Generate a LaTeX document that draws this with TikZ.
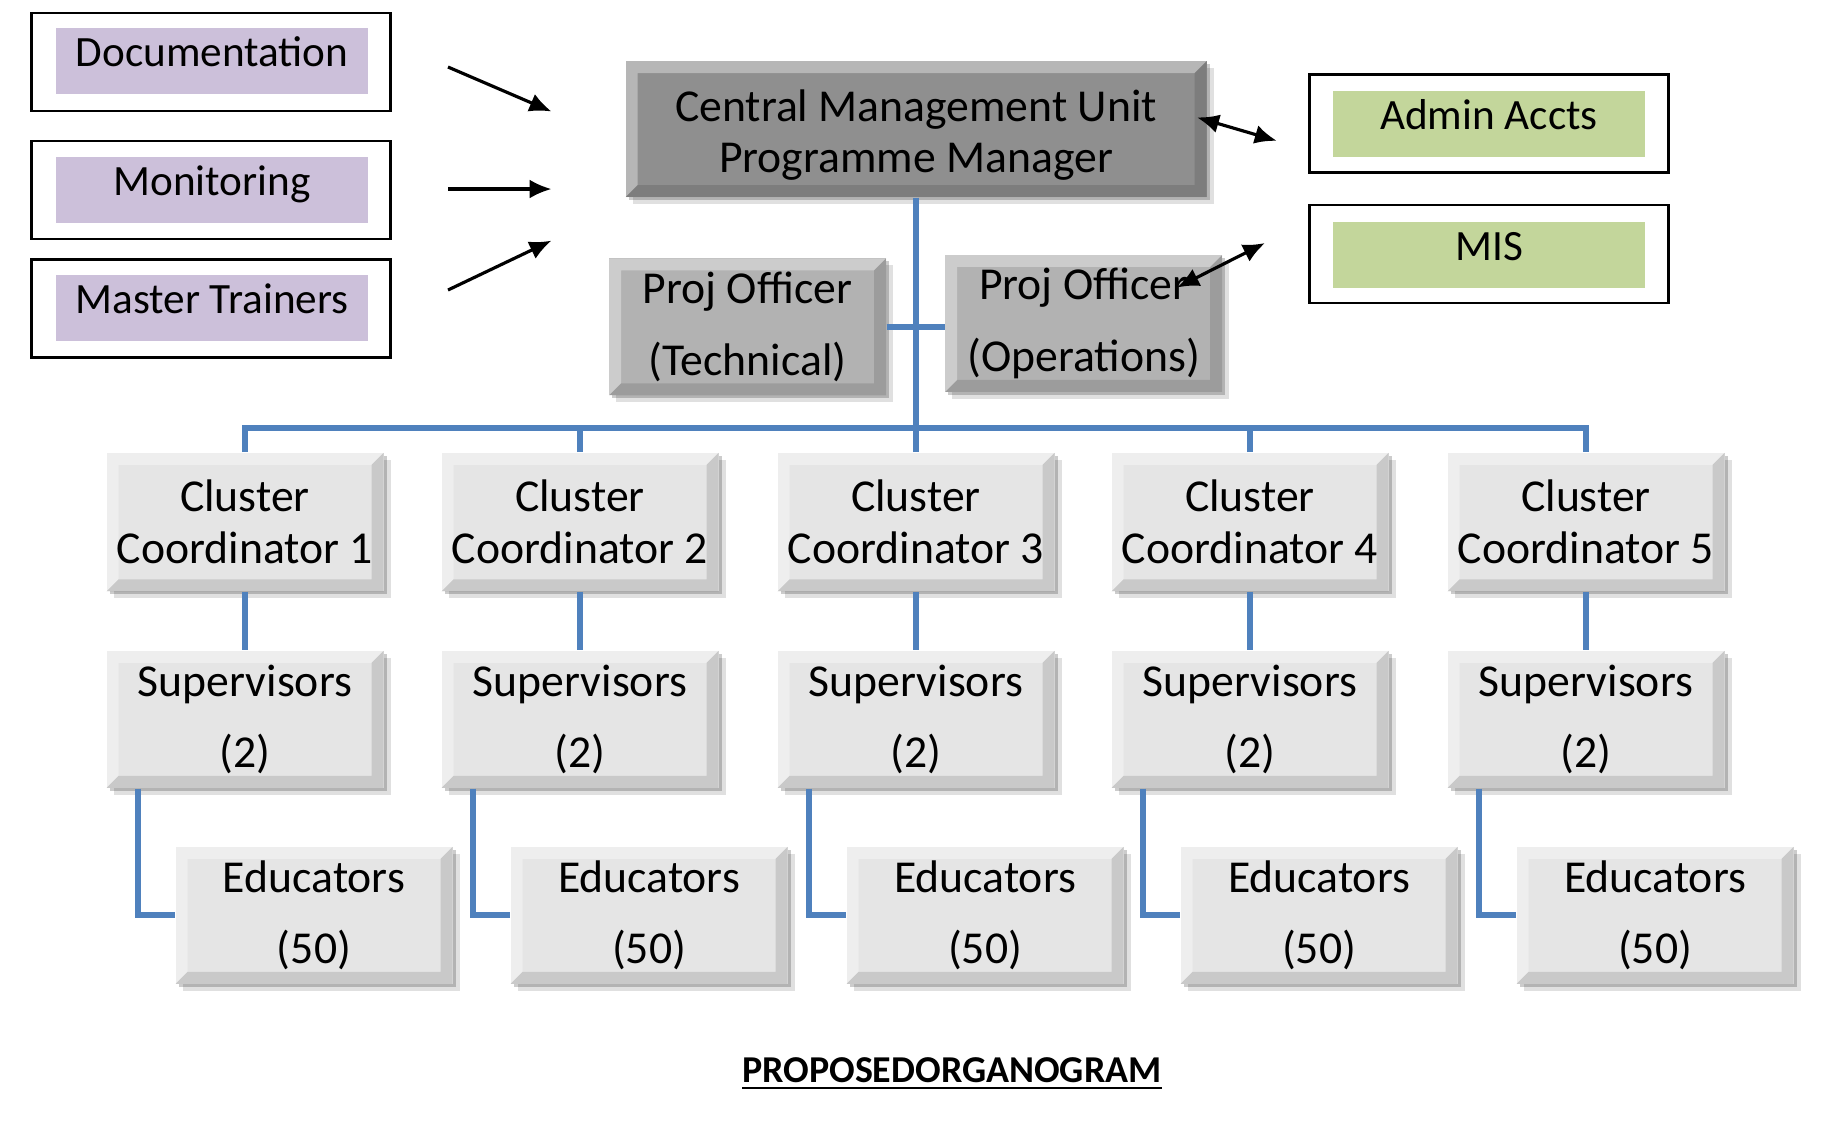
\documentclass[tikz,border=0pt]{standalone}
\usepackage{fontspec}
\setmainfont{Carlito}
\usetikzlibrary{positioning,arrows.meta,calc,shadows}
\definecolor{orgblue}{HTML}{4F81BD}
\definecolor{lilac}{HTML}{CCC0DA}
\definecolor{sage}{HTML}{C3D69B}
\newcommand{\bevelw}{0.12}
\tikzset{
  bevel/.style={path picture={
    \coordinate (bsw) at (path picture bounding box.south west);
    \coordinate (bne) at (path picture bounding box.north east);
    \fill[white, opacity=0.35] (bsw) -- (bsw|-bne) -- (bne) -- ($(bne)+(-\bevelw,-\bevelw)$) -- ($(bsw|-bne)+(\bevelw,-\bevelw)$) -- ($(bsw)+(\bevelw,\bevelw)$) -- cycle;
    \fill[black, opacity=0.12] (bsw) -- (bne|-bsw) -- (bne) -- ($(bne)+(-\bevelw,-\bevelw)$) -- ($(bne|-bsw)+(-\bevelw,\bevelw)$) -- ($(bsw)+(\bevelw,\bevelw)$) -- cycle;
  }},
  orgbox/.style={bevel, fill=#1, minimum width=2.77cm, minimum height=1.37cm, align=center, inner sep=0pt,
    font=\fontsize{13}{14.7}\selectfont,
    drop shadow={shadow xshift=0.03cm, shadow yshift=-0.03cm, opacity=0.2, fill=black},
    drop shadow={shadow xshift=0.07cm, shadow yshift=-0.07cm, opacity=0.12, fill=black}},
  orgbox/.default={gray!20},
  loosebox/.style={orgbox=#1, font=\fontsize{13}{20.4}\selectfont},
  loosebox/.default={gray!20},
  framebox/.style={draw, line width=0.8pt, minimum width=3.59cm, minimum height=0.98cm},
  tagbox/.style={fill=#1, minimum width=3.12cm, minimum height=0.66cm, inner sep=0pt, text height=0.28cm, text depth=0.17cm, font=\fontsize{12.3}{14}\selectfont},
  orgline/.style={orgblue, line width=1.8pt},
  feedarrow/.style={-{Latex[length=2.2mm, width=1.9mm]}, line width=0.9pt},
  twowayarrow/.style={{Latex[length=2.2mm, width=1.9mm]}-{Latex[length=2.2mm, width=1.9mm]}, line width=0.9pt}
}
\begin{document}
\begin{tikzpicture}
  \useasboundingbox (0,0) rectangle (18.4,-11.36);
  % support units on the left
  \node[framebox] (docframe) at (2.11,-0.62) {};
  \node[tagbox=lilac] (doc) at (2.12,-0.61) {Documentation};
  \node[framebox] (monframe) at (2.11,-1.90) {};
  \node[tagbox=lilac] (mon) at (2.12,-1.895) {Monitoring};
  \node[framebox] (masframe) at (2.11,-3.086) {};
  \node[tagbox=lilac] (mas) at (2.12,-3.08) {Master Trainers};
  % support units on the right
  \node[framebox] (admframe) at (14.886,-1.232) {};
  \node[tagbox=sage] (adm) at (14.89,-1.238) {Admin Accts};
  \node[framebox] (misframe) at (14.886,-2.54) {};
  \node[tagbox=sage] (mis) at (14.89,-2.546) {MIS};
  % management
  \node[orgbox=gray!88, minimum width=5.81cm, minimum height=1.36cm, font=\fontsize{13}{14.5}\selectfont] (cmu) at (9.16,-1.29) {\rule{0pt}{0.43cm}Central Management Unit\\Programme Manager};
  \node[loosebox=gray!60] (projT) at (7.475,-3.268) {Proj Officer\\(Technical)};
  \node[loosebox=gray!60] (projO) at (10.837,-3.233) {Proj Officer\\(Operations)};
  % clusters
  \node[orgbox, minimum height=1.385cm] (cc1) at (2.45,-5.22) {Cluster\\Coordinator 1};
  \node[orgbox, minimum height=1.385cm] (cc2) at (5.80,-5.22) {Cluster\\Coordinator 2};
  \node[orgbox, minimum height=1.385cm] (cc3) at (9.16,-5.22) {Cluster\\Coordinator 3};
  \node[orgbox, minimum height=1.385cm] (cc4) at (12.50,-5.22) {Cluster\\Coordinator 4};
  \node[orgbox, minimum height=1.385cm] (cc5) at (15.86,-5.22) {Cluster\\Coordinator 5};
  \node[loosebox] (sup1) at (2.45,-7.194) {Supervisors\\(2)};
  \node[loosebox] (sup2) at (5.80,-7.194) {Supervisors\\(2)};
  \node[loosebox] (sup3) at (9.16,-7.194) {Supervisors\\(2)};
  \node[loosebox] (sup4) at (12.50,-7.194) {Supervisors\\(2)};
  \node[loosebox] (sup5) at (15.86,-7.194) {Supervisors\\(2)};
  \node[loosebox] (edu1) at (3.14,-9.153) {Educators\\(50)};
  \node[loosebox] (edu2) at (6.49,-9.153) {Educators\\(50)};
  \node[loosebox] (edu3) at (9.85,-9.153) {Educators\\(50)};
  \node[loosebox] (edu4) at (13.19,-9.153) {Educators\\(50)};
  \node[loosebox] (edu5) at (16.55,-9.153) {Educators\\(50)};
  % blue tree
  \coordinate (bus) at (9.16,-4.283);
  \draw[orgline] (cmu.south) -- (bus);
  \draw[orgline] (projT.east) -- (projO.west |- projT.east);
  \draw[orgline] (cc1.north) |- (bus) -| (cc5.north);
  \draw[orgline] (cc2.north) -- (cc2.north |- bus);
  \draw[orgline] (cc3.north) -- (cc3.north |- bus);
  \draw[orgline] (cc4.north) -- (cc4.north |- bus);
  \draw[orgline] (cc1) -- (sup1);
  \draw[orgline] (cc2) -- (sup2);
  \draw[orgline] (cc3) -- (sup3);
  \draw[orgline] (cc4) -- (sup4);
  \draw[orgline] (cc5) -- (sup5);
  \draw[orgline] ($(sup1.south west)+(0.32,0)$) |- (edu1.west);
  \draw[orgline] ($(sup2.south west)+(0.32,0)$) |- (edu2.west);
  \draw[orgline] ($(sup3.south west)+(0.32,0)$) |- (edu3.west);
  \draw[orgline] ($(sup4.south west)+(0.32,0)$) |- (edu4.west);
  \draw[orgline] ($(sup5.south west)+(0.32,0)$) |- (edu5.west);
  % arrows
  \coordinate (docout) at (4.48,-0.67);
  \coordinate (docin) at (5.515,-1.115);
  \coordinate (monout) at (4.48,-1.89);
  \coordinate (monin) at (5.515,-1.89);
  \coordinate (masout) at (4.48,-2.90);
  \coordinate (masin) at (5.515,-2.406);
  \draw[feedarrow] (docout) -- (docin);
  \draw[feedarrow] (monout) -- (monin);
  \draw[feedarrow] (masout) -- (masin);
  \coordinate (admend) at (11.97,-1.174);
  \coordinate (admtip) at (12.768,-1.408);
  \coordinate (misend) at (11.77,-2.875);
  \coordinate (mistip) at (12.65,-2.43);
  \draw[twowayarrow] (admend) -- (admtip);
  \draw[twowayarrow] (misend) -- (mistip);
  \node[font=\fontsize{10.8}{13}\selectfont\bfseries] (caption) at (9.52,-10.74) {\underline{PROPOSEDORGANOGRAM}};
\end{tikzpicture}
\end{document}
